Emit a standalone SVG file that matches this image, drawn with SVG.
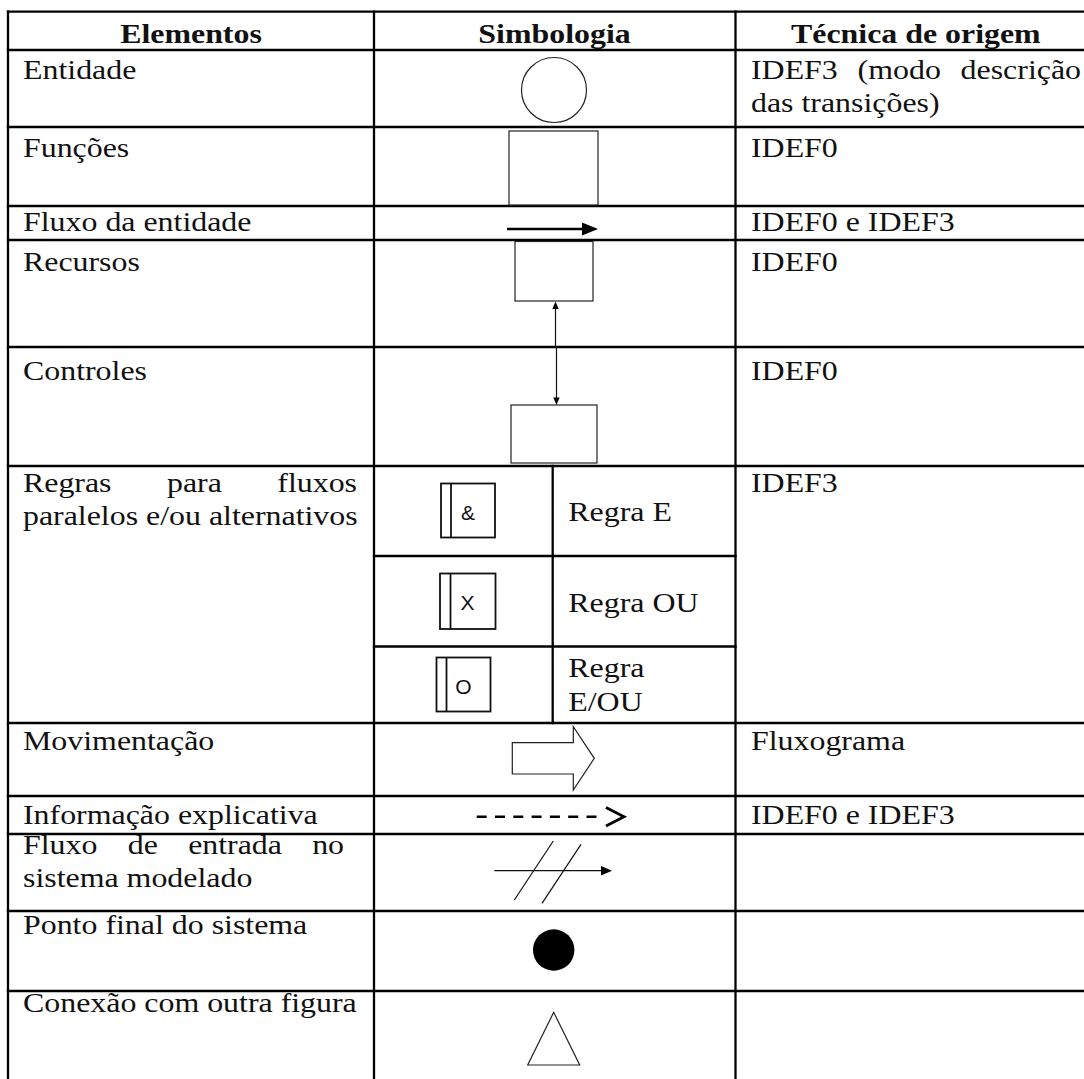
<svg xmlns="http://www.w3.org/2000/svg" width="1084" height="1079" viewBox="0 0 1084 1079">
  <style>
    .grid line { stroke: #000; stroke-width: 2.3; stroke-linecap: square; }
    .txt { font-family: "Liberation Serif", "Times New Roman", serif; font-size: 27.5px; fill: #111; }
    .hdr { font-weight: bold; text-anchor: middle; }
    .sym { fill: #fff; stroke: #222; stroke-width: 1.2; }
    .rule { fill: #fff; stroke: #111; stroke-width: 1.8; }
    .rulelbl { font-family: "Liberation Sans", Arial, sans-serif; font-size: 21px; fill: #111; text-anchor: middle; }
    .thin { stroke: #111; stroke-width: 1.2; fill: none; }
    .end { text-anchor: end; }
  </style>
  <rect width="1084" height="1079" fill="#fff"/>

  <!-- table grid -->
  <g id="grid" class="grid">
    <line x1="8" y1="11.7" x2="1090" y2="11.7"/>
    <line x1="8" y1="50" x2="1090" y2="50"/>
    <line x1="8" y1="127" x2="1090" y2="127"/>
    <line x1="8" y1="206" x2="1090" y2="206"/>
    <line x1="8" y1="240" x2="1090" y2="240"/>
    <line x1="8" y1="347" x2="1090" y2="347"/>
    <line x1="8" y1="466" x2="1090" y2="466"/>
    <line x1="374" y1="556" x2="735.5" y2="556"/>
    <line x1="374" y1="646.5" x2="735.5" y2="646.5"/>
    <line x1="8" y1="723" x2="1090" y2="723"/>
    <line x1="8" y1="796" x2="1090" y2="796"/>
    <line x1="8" y1="834" x2="1090" y2="834"/>
    <line x1="8" y1="911" x2="1090" y2="911"/>
    <line x1="8" y1="991" x2="1090" y2="991"/>
    <line x1="8" y1="11.7" x2="8" y2="1085"/>
    <line x1="374" y1="11.7" x2="374" y2="1085"/>
    <line x1="735.5" y1="11.7" x2="735.5" y2="1085"/>
    <line x1="552.7" y1="466" x2="552.7" y2="723"/>
  </g>

  <!-- symbol shapes -->
  <g id="sym-entidade"><circle class="sym" cx="554" cy="90" r="32.5"/></g>
  <g id="sym-funcoes"><rect class="sym" x="509" y="131" width="89" height="74"/></g>
  <g id="sym-recursos"><rect class="sym" x="515" y="241.5" width="78" height="59.5"/></g>
  <g id="sym-controles"><rect class="sym" x="511" y="405" width="86" height="58"/></g>

  <g id="sym-regra-e">
    <rect class="rule" x="441" y="483.5" width="54" height="54"/>
    <line class="rule" x1="451" y1="483.5" x2="451" y2="537.5"/>
    <text class="rulelbl" x="468" y="519.5">&amp;</text>
  </g>
  <g id="sym-regra-ou">
    <rect class="rule" x="440" y="573.5" width="55.5" height="55.5"/>
    <line class="rule" x1="450.5" y1="573.5" x2="450.5" y2="629"/>
    <text class="rulelbl" x="467.5" y="610">X</text>
  </g>
  <g id="sym-regra-eou">
    <rect class="rule" x="436.5" y="657.5" width="54" height="54"/>
    <line class="rule" x1="446.5" y1="657.5" x2="446.5" y2="711.5"/>
    <text class="rulelbl" x="463.5" y="693.5">O</text>
  </g>

  <g id="sym-movimentacao">
    <polygon class="sym" points="512.3,742.7 573.3,742.7 573.3,726.7 594.3,758.3 573.3,790 573.3,774 512.3,774"/>
  </g>
  <g id="sym-ponto-final"><circle cx="553.7" cy="950" r="20.7" fill="#000"/></g>
  <g id="sym-conexao">
    <polygon class="sym" points="553.7,1012.3 527.7,1065 579.7,1065"/>
  </g>

  <!-- arrows -->
  <g id="connectors">
    <line x1="507" y1="229" x2="584" y2="229" stroke="#000" stroke-width="2.4"/>
    <polygon points="582,222.5 598,229 582,235.5" fill="#000"/>

    <line class="thin" x1="555.5" y1="347" x2="555.5" y2="306"/>
    <polygon points="552.3,309 555.5,301.5 558.7,309" fill="#000"/>

    <line class="thin" x1="556.5" y1="347" x2="556.5" y2="399"/>
    <polygon points="553.3,397.5 556.5,405 559.7,397.5" fill="#000"/>

    <line x1="476.7" y1="816.7" x2="597" y2="816.7" stroke="#000" stroke-width="2.5" stroke-dasharray="10 8.3"/>
    <polyline points="606,807.5 624,816.7 606,826" fill="none" stroke="#000" stroke-width="2.8"/>

    <line class="thin" x1="494.3" y1="870.7" x2="603" y2="870.7"/>
    <polygon points="601,866 612,870.7 601,875.4" fill="#000"/>
    <line class="thin" x1="514.3" y1="900" x2="553.3" y2="841"/>
    <line class="thin" x1="542" y1="903.3" x2="581" y2="844.3"/>
  </g>

  <!-- text, glyphs widened horizontally -->
  <g id="labels" class="txt" transform="scale(1.16 1)">
    <g id="header">
      <text class="hdr" x="164.66" y="43">Elementos</text>
      <text class="hdr" x="478.02" y="43">Simbologia</text>
      <text class="hdr" x="789.5" y="43">Técnica de origem</text>
    </g>
    <g id="row-entidade">
      <text x="19.83" y="79">Entidade</text>
      <text x="647.41" y="79">IDEF3</text>
      <text x="739.3" y="79">(modo</text>
      <text class="end" x="931.9" y="79">descrição</text>
      <text x="647.41" y="112.5">das transições)</text>
    </g>
    <g id="row-funcoes">
      <text x="19.83" y="157">Funções</text>
      <text x="647.41" y="157">IDEF0</text>
    </g>
    <g id="row-fluxo">
      <text x="19.83" y="231">Fluxo da entidade</text>
      <text x="647.41" y="231">IDEF0 e IDEF3</text>
    </g>
    <g id="row-recursos">
      <text x="19.83" y="271">Recursos</text>
      <text x="647.41" y="271">IDEF0</text>
    </g>
    <g id="row-controles">
      <text x="19.83" y="380">Controles</text>
      <text x="647.41" y="380">IDEF0</text>
    </g>
    <g id="row-regras">
      <text x="19.83" y="492">Regras</text>
      <text x="143.95" y="492">para</text>
      <text class="end" x="307.8" y="492">fluxos</text>
      <text x="19.83" y="525.5">paralelos e/ou alternativos</text>
      <text x="489.91" y="521">Regra E</text>
      <text x="489.91" y="611.7">Regra OU</text>
      <text x="489.91" y="677">Regra</text>
      <text x="489.91" y="711">E/OU</text>
      <text x="647.41" y="492">IDEF3</text>
    </g>
    <g id="row-movimentacao">
      <text x="19.83" y="750">Movimentação</text>
      <text x="647.41" y="750">Fluxograma</text>
    </g>
    <g id="row-informacao">
      <text x="19.83" y="824">Informação explicativa</text>
      <text x="647.41" y="824">IDEF0 e IDEF3</text>
    </g>
    <g id="row-fluxo-entrada">
      <text x="19.83" y="854">Fluxo</text>
      <text x="110.1" y="854">de</text>
      <text x="162.2" y="854">entrada</text>
      <text class="end" x="296.6" y="854">no</text>
      <text x="19.83" y="887.5">sistema modelado</text>
    </g>
    <g id="row-ponto-final">
      <text x="19.83" y="934">Ponto final do sistema</text>
    </g>
    <g id="row-conexao">
      <text x="19.83" y="1012">Conexão com outra figura</text>
    </g>
  </g>
</svg>
